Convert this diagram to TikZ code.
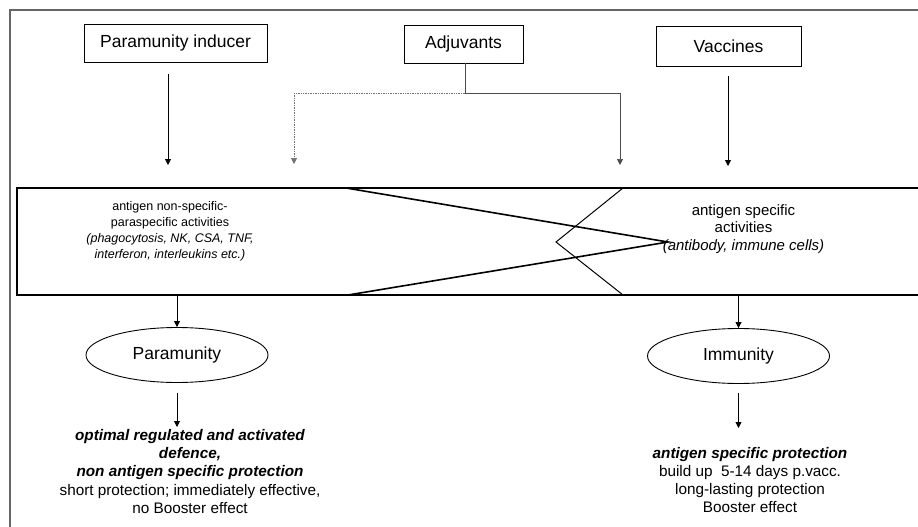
\documentclass[tikz,border=0pt]{standalone}
\usepackage{fontspec}
\setmainfont{Liberation Sans}
\usetikzlibrary{arrows.meta,shapes.geometric}
\begin{document}
\begin{tikzpicture}[x=1pt,y=-1pt,
  box/.style={draw,line width=0.9pt,inner sep=0pt,font=\fontsize{17.5}{20}\selectfont},
  ell/.style={draw,ellipse,line width=0.9pt,inner sep=0pt,minimum width=182pt,minimum height=55pt,font=\fontsize{17.5}{20}\selectfont},
  arr/.style={-{Triangle[length=6pt,width=6pt]},line width=0.8pt},
  adj/.style={line width=0.7pt,draw=black!70},
  adjdot/.style={line width=0.7pt,draw=black!55,densely dotted},
  bandline/.style={line width=1.6pt},
  notch/.style={line width=1pt},
  frame/.style={line width=1.5pt,draw=black!60},
  bandtext/.style={align=center,inner sep=0pt,font=\fontsize{12.5}{16}\selectfont},
  bandtextr/.style={align=center,inner sep=0pt,font=\fontsize{15}{17.5}\selectfont},
  outtext/.style={align=center,inner sep=0pt,font=\fontsize{15.3}{18.3}\selectfont}
]
\useasboundingbox (0,0) rectangle (918,527);
\fill[white] (0,0) rectangle (918,527);
% outer frame
\draw[frame] (10,527) -- (10,10) -- (918,10);
% top boxes
\node[box,minimum width=183pt,minimum height=38pt] (pi) at (175.5,43) {Paramunity inducer};
\node[box,minimum width=119pt,minimum height=38pt] (adj) at (463.5,44) {Adjuvants};
\node[box,minimum width=145pt,minimum height=40pt] (vac) at (728.5,46) {Vaccines};
% arrow end points
\coordinate (pis) at (168,74);
\coordinate (pie) at (168,165);
\coordinate (vas) at (728,76);
\coordinate (vae) at (728,166);
\coordinate (aj) at (465,93);
\coordinate (ajl) at (294,93);
\coordinate (ajle) at (294,164);
\coordinate (ajr) at (620,93);
\coordinate (ajre) at (620,165);
\draw[arr] (pis) -- (pie);
\draw[arr] (vas) -- (vae);
\draw[adj] (adj.south -| aj) -- (aj) -- (ajr);
\draw[adj,arr,line width=0.7pt] (ajr) -- (ajre);
\draw[adjdot] (aj) -- (ajl);
\draw[adjdot,-{Triangle[length=6pt,width=6pt]}] (ajl) -- (ajle);
% band
\draw[bandline] (17,188) -- (918,188);
\draw[bandline] (17,295) -- (918,295);
\draw[bandline] (17,187.2) -- (17,295.8);
\draw[bandline] (346,188) -- (668,242) -- (348,295);
\draw[notch] (623,188) -- (556,242) -- (623,295);
\node[bandtext] (nsp) at (170,231) {antigen non-specific-\\paraspecific activities\\\textit{(phagocytosis, NK, CSA, TNF,}\\\textit{interferon, interleukins etc.)}};
\node[bandtextr] (sp) at (743.5,229) {antigen specific\\activities\\\textit{(antibody, immune cells)}};
% lower part
\coordinate (bl) at (738.5,296);
\coordinate (blp) at (177,296);
\node[ell] (para) at (177,355) {Paramunity};
\node[ell] (imm) at (738.5,356) {Immunity};
\draw[arr] (blp) -- (para.north);
\draw[arr] (bl) -- (imm.north);
\coordinate (pls) at (177,393);
\coordinate (ple) at (177,427);
\coordinate (irs) at (738.5,393);
\coordinate (ire) at (738.5,428);
\draw[arr] (pls) -- (ple);
\draw[arr] (irs) -- (ire);
\node[outtext] (pout) at (190,471.5) {\textbf{\textit{optimal regulated and activated}}\\\textbf{\textit{defence,}}\\\textbf{\textit{non antigen specific protection}}\\short protection; immediately effective,\\no Booster effect};
\node[outtext] (iout) at (750,480) {\textbf{\textit{antigen specific protection}}\\build up\ \ 5-14 days p.vacc.\\long-lasting protection\\Booster effect};
\end{tikzpicture}
\end{document}
